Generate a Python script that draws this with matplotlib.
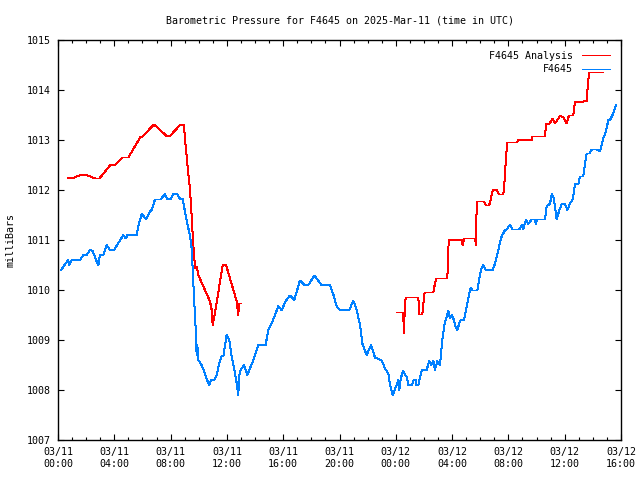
import numpy as np
import matplotlib
matplotlib.use('Agg')
import matplotlib.pyplot as plt

#dane (godziny od 03/11 00:00 UTC)
nan = np.nan
red_h = [0.71, 1.07, 1.68, 2.04, 2.63, 2.94, 3.69, 4.05, 4.6, 5.0, 5.83, 6.0, 6.82, 7.72, 7.96,
         8.67, 8.95, 9.07, 9.26, 9.38, 9.5, 9.61, 9.66, 9.73, 9.85, 9.97, 10.8, 10.92, 10.99,
         11.15, 11.7, 11.94, 12.7, 12.81, 12.86, 12.98, nan,
         24.06, 24.53, 24.55, 24.6, 24.62, 24.7, 25.6, 25.67, 25.88, 26.0, 26.05, 26.67, 26.78,
         26.9, 27.66, 27.76, 28.68, 28.75, 28.86, 29.63, 29.7, 29.73, 29.8, 30.27, 30.4, 30.63,
         30.73, 30.9, 31.18, 31.33, 31.64, 31.71, 31.83, 31.92, 32.63, 32.7, 33.65, 33.72, 34.6,
         34.67, 34.9, 35.14, 35.31, 35.67, 35.91, 36.14, 36.3, 36.61, 36.73, 36.97, 37.56, 37.63,
         37.73, 38.7]
red_p = [1012.24, 1012.24, 1012.31, 1012.30, 1012.23, 1012.23, 1012.49, 1012.50, 1012.65,
         1012.65, 1013.05, 1013.07, 1013.31, 1013.08, 1013.08, 1013.30, 1013.29, 1012.87,
         1012.33, 1012.0, 1011.47, 1010.87, 1010.8, 1010.43, 1010.47, 1010.3, 1009.77, 1009.6,
         1009.3, 1009.53, 1010.5, 1010.5, 1009.77, 1009.5, 1009.73, 1009.73, nan,
         1009.55, 1009.55, 1009.33, 1009.13, 1009.5, 1009.85, 1009.85, 1009.51, 1009.51,
         1009.85, 1009.95, 1009.95, 1010.13, 1010.23, 1010.23, 1011.0, 1011.0, 1010.9, 1011.03,
         1011.03, 1010.9, 1011.5, 1011.77, 1011.77, 1011.69, 1011.69, 1011.8, 1012.0, 1012.0,
         1011.91, 1011.91, 1012.1, 1012.67, 1012.95, 1012.95, 1013.0, 1013.0, 1013.07, 1013.07,
         1013.32, 1013.32, 1013.43, 1013.33, 1013.48, 1013.46, 1013.33, 1013.49, 1013.49,
         1013.77, 1013.75, 1013.78, 1014.05, 1014.35, 1014.35]

blue_h = [0.21, 0.73, 0.8, 0.97, 1.56, 1.8, 2.04, 2.27, 2.46, 2.75, 2.87, 2.98, 3.22, 3.46, 3.69,
          3.98, 4.64, 4.83, 4.93, 5.59, 5.7, 5.94, 6.25, 6.54, 6.65, 6.89, 7.29, 7.6, 7.77, 8.0,
          8.19, 8.47, 8.67, 8.86, 9.02, 9.19, 9.38, 9.5, 9.66, 9.78, 9.85, 9.9, 9.97, 10.2,
          10.44, 10.68, 10.75, 10.87, 11.1, 11.27, 11.46, 11.63, 11.75, 11.98, 12.17, 12.34,
          12.58, 12.7, 12.81, 12.88, 12.98, 13.21, 13.45, 13.88, 14.23, 14.75, 14.94, 15.18,
          15.42, 15.65, 15.89, 16.2, 16.48, 16.79, 17.19, 17.5, 17.79, 18.21, 18.73, 19.32,
          19.61, 19.8, 20.04, 20.7, 20.98, 21.22, 21.46, 21.62, 21.93, 22.24, 22.52, 23.0,
          23.23, 23.47, 23.59, 23.78, 24.06, 24.18, 24.25, 24.35, 24.53, 24.65, 24.77, 24.9,
          25.15, 25.27, 25.4, 25.45, 25.6, 25.84, 26.19, 26.38, 26.5, 26.67, 26.78, 26.95,
          27.14, 27.3, 27.45, 27.73, 27.85, 27.97, 28.13, 28.2, 28.37, 28.51, 28.6, 28.85,
          28.99, 29.15, 29.32, 29.46, 29.79, 29.93, 30.1, 30.22, 30.4, 30.89, 31.05, 31.21,
          31.36, 31.52, 31.76, 31.88, 32.11, 32.3, 32.77, 32.94, 33.06, 33.25, 33.41, 33.65,
          33.88, 33.95, 34.05, 34.6, 34.72, 34.96, 35.08, 35.19, 35.31, 35.43, 35.62, 35.79,
          36.02, 36.19, 36.38, 36.57, 36.73, 36.97, 37.09, 37.32, 37.44, 37.56, 37.75, 37.92,
          38.27, 38.51, 38.74, 38.93, 39.1, 39.22, 39.45, 39.64]
blue_p = [1010.4, 1010.6, 1010.5, 1010.6, 1010.6, 1010.7, 1010.7, 1010.8, 1010.78, 1010.57,
          1010.5, 1010.7, 1010.7, 1010.9, 1010.8, 1010.8, 1011.1, 1011.03, 1011.1, 1011.1,
          1011.27, 1011.52, 1011.42, 1011.57, 1011.6, 1011.81, 1011.81, 1011.92, 1011.82,
          1011.82, 1011.92, 1011.92, 1011.82, 1011.82, 1011.57, 1011.33, 1011.07, 1010.83,
          1009.87, 1009.23, 1008.7, 1008.9, 1008.6, 1008.5, 1008.33, 1008.13, 1008.1, 1008.2,
          1008.2, 1008.3, 1008.53, 1008.68, 1008.68, 1009.1, 1009.0, 1008.67, 1008.33, 1008.13,
          1007.9, 1008.3, 1008.4, 1008.5, 1008.3, 1008.6, 1008.9, 1008.9, 1009.2, 1009.33,
          1009.5, 1009.68, 1009.6, 1009.79, 1009.89, 1009.8, 1010.19, 1010.1, 1010.1, 1010.29,
          1010.1, 1010.1, 1009.87, 1009.67, 1009.6, 1009.6, 1009.79, 1009.6, 1009.3, 1008.93,
          1008.7, 1008.9, 1008.65, 1008.59, 1008.43, 1008.33, 1008.1, 1007.9, 1008.1, 1008.2,
          1008.0, 1008.23, 1008.39, 1008.3, 1008.27, 1008.1, 1008.1, 1008.2, 1008.2, 1008.1,
          1008.1, 1008.39, 1008.4, 1008.58, 1008.5, 1008.58, 1008.4, 1008.58, 1008.5, 1009.0,
          1009.3, 1009.59, 1009.43, 1009.5, 1009.4, 1009.3, 1009.2, 1009.33, 1009.4, 1009.4,
          1009.6, 1009.83, 1010.05, 1009.99, 1009.99, 1010.23, 1010.45, 1010.5, 1010.4, 1010.4,
          1010.53, 1010.7, 1010.9, 1011.07, 1011.2, 1011.21, 1011.31, 1011.21, 1011.21, 1011.3,
          1011.22, 1011.41, 1011.32, 1011.41, 1011.41, 1011.32, 1011.41, 1011.41, 1011.67,
          1011.73, 1011.92, 1011.87, 1011.67, 1011.41, 1011.6, 1011.72, 1011.72, 1011.6,
          1011.73, 1011.81, 1012.12, 1012.12, 1012.27, 1012.27, 1012.53, 1012.73, 1012.73,
          1012.81, 1012.81, 1012.77, 1013.03, 1013.17, 1013.4, 1013.4, 1013.53, 1013.7]

x_ticks = [0, 4, 8, 12, 16, 20, 24, 28, 32, 36, 40]
x_labels = ['03/11\n00:00', '03/11\n04:00', '03/11\n08:00', '03/11\n12:00', '03/11\n16:00',
            '03/11\n20:00', '03/12\n00:00', '03/12\n04:00', '03/12\n08:00', '03/12\n12:00',
            '03/12\n16:00']
y_ticks = [1007, 1008, 1009, 1010, 1011, 1012, 1013, 1014, 1015]

#wykres
plt.rcParams['font.family'] = ['DejaVu Sans Mono']
plt.rcParams['font.size'] = 7.2

fig = plt.figure(figsize=(6.4, 4.8), dpi=100)
ax = fig.add_axes([58/640, 40/480, 563/640, 400/480])

ax.plot(red_h, red_p, color='#ff0000', lw=0.72, antialiased=False, label='F4645 Analysis')
ax.plot(blue_h, blue_p, color='#0080ff', lw=0.72, antialiased=False, label='F4645')

ax.set_xlim(0, 40)
ax.set_ylim(1007, 1015)
ax.set_xticks(x_ticks)
ax.set_xticklabels(x_labels)
ax.set_xticks(np.arange(0, 41, 1), minor=True)
ax.set_yticks(y_ticks)
ax.tick_params(which='both', direction='in', top=True, right=True, color='black', labelcolor='black')
ax.tick_params(which='major', length=4, width=0.8, pad=5)
ax.tick_params(which='minor', length=2, width=0.8)
for s in ax.spines.values():
    s.set_linewidth(1.0)

ax.set_title('Barometric Pressure for F4645 on 2025-Mar-11 (time in UTC)', fontsize=7.2, pad=12)
ax.set_ylabel('milliBars', labelpad=8)
ax.legend(loc='upper right', frameon=False, markerfirst=False, handlelength=2.8,
          handletextpad=0.9, labelspacing=0.35, borderaxespad=0.7)

fig.savefig('out.png', dpi=100)
